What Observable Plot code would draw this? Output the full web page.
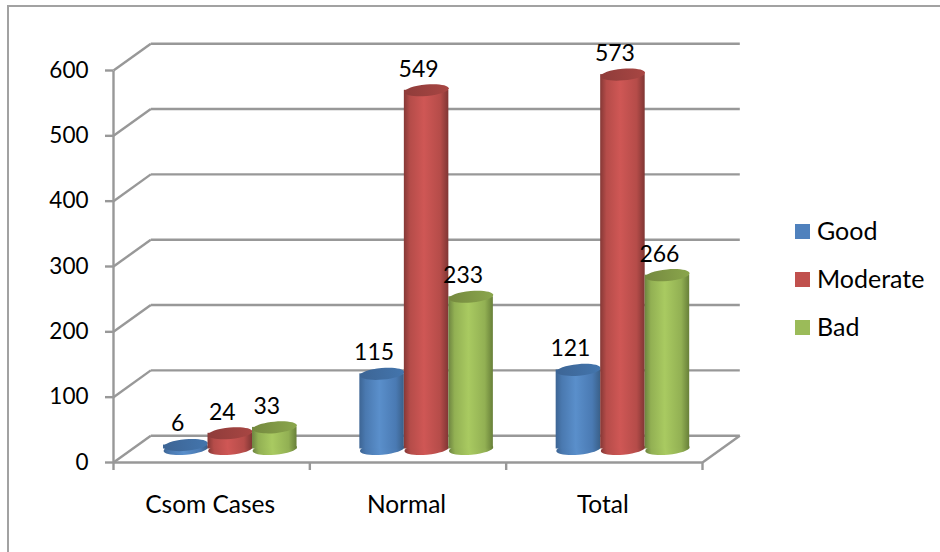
<!DOCTYPE html>
<html>
<head>
<meta charset="utf-8">
<script src="https://cdn.jsdelivr.net/npm/d3@7"></script>
<script src="https://cdn.jsdelivr.net/npm/@observablehq/plot@0.6"></script>
<style>
  html, body { margin: 0; padding: 0; background: #fff; width: 940px; height: 552px; overflow: hidden; }
  #wrap { position: relative; width: 940px; height: 552px; font-family: Lato, sans-serif; color: #000; }
  #border { position: absolute; left: 7px; top: 5px; width: 940px; height: 560px; box-sizing: border-box; border: 2px solid #a2a2a2; }
  #legend { position: absolute; left: 795px; top: 206px; }
  #legend div { height: 48px; display: flex; align-items: center; font-size: 25px; }
  #legend i { display: block; width: 15px; height: 15px; margin-right: 7px; position: relative; top: 1px; }
  #chart { position: absolute; left: 0; top: 0; }
</style>
</head>
<body>
<div id="wrap">
  <div id="border"></div>
  <div id="chart"></div>
  <div id="legend"></div>
</div>
<script>
const categories = ["Csom Cases", "Normal", "Total"];
const good = [6, 115, 121];
const moderate = [24, 549, 573];
const bad = [33, 233, 266];
const seriesNames = ["Good", "Moderate", "Bad"];
const seriesValues = [good, moderate, bad];
const yTicks = [0, 100, 200, 300, 400, 500, 600];

// Colours: legend colour, then the shaded stops of the cylinder side and cap
const legendColors = ["#4f81bd", "#c0504d", "#9bbb59"];
const sideStops = [
  ["#3d6594", "#4a79b0", "#5a8fcb", "#4a7ab3", "#3a6089"],
  ["#853836", "#b54c49", "#cf5755", "#b54c49", "#803634"],
  ["#6d8440", "#92b053", "#a9ca61", "#92b053", "#688039"]
];
const capStops = [
  ["#3d6595", "#4375ad"],
  ["#8f3c3a", "#a84643"],
  ["#75893f", "#8aa64c"]
];
const gridColor = "#989898";

// Pseudo-3D layout, expressed in scale units (category widths and chart values)
const depthX = 0.19;
const depthY = 41;
const barStart = 0.2547;
const barWidth = 0.2267;
const baseLift = 20.7;
const lastCategory = categories.length;

const rows = seriesValues.map((values, s) =>
  values.map((v, i) => ({
    series: seriesNames[s],
    value: v,
    x1: i + barStart + s * barWidth,
    x2: i + barStart + (s + 1) * barWidth,
    xc: i + barStart + (s + 0.5) * barWidth,
    y0: baseLift,
    yTop: baseLift + v
  }))
);

// Flattened ellipse symbol for the cylinder ends
const ellipse = {
  draw(ctx, size) {
    const rx = Math.sqrt(size / Math.PI);
    const ry = rx * 0.26;
    const k = 0.5523;
    ctx.moveTo(-rx, 0);
    ctx.bezierCurveTo(-rx, -k * ry, -k * rx, -ry, 0, -ry);
    ctx.bezierCurveTo(k * rx, -ry, rx, -k * ry, rx, 0);
    ctx.bezierCurveTo(rx, k * ry, k * rx, ry, 0, ry);
    ctx.bezierCurveTo(-k * rx, ry, -rx, k * ry, -rx, 0);
    ctx.closePath();
  }
};

function gradients() {
  const defs = d3.create("svg:defs");
  sideStops.forEach((stops, s) => {
    const g = defs.append("linearGradient").attr("id", "side" + s);
    [0, 0.14, 0.45, 0.82, 1].forEach((o, j) =>
      g.append("stop").attr("offset", o).attr("stop-color", stops[j]));
  });
  capStops.forEach((stops, s) => {
    const g = defs.append("linearGradient").attr("id", "cap" + s);
    stops.forEach((c, j) =>
      g.append("stop").attr("offset", j).attr("stop-color", c));
  });
  return defs.node();
}

const lineStyle = { stroke: gridColor, strokeWidth: 2.4 };

const cylinderMarks = rows.flatMap((data, s) => [
  Plot.dot(data, { x: "xc", y: "y0", r: barWidth * 98, symbol: ellipse, rotate: -5, fill: `url(#side${s})` }),
  Plot.rect(data, { x1: "x1", x2: "x2", y1: "y0", y2: "yTop", fill: `url(#side${s})` }),
  Plot.dot(data, { x: "xc", y: "yTop", r: barWidth * 98, symbol: ellipse, rotate: -5, fill: `url(#cap${s})` })
]);

const labelMarks = rows.map(data =>
  Plot.text(data, { x: "xc", y: "yTop", text: "value", dx: -8, dy: -21, fill: "#000", lineAnchor: "middle", fontSize: 23 })
);

const chart = Plot.plot({
  width: 940,
  height: 552,
  marginTop: 70,
  marginBottom: 90,
  marginLeft: 113,
  marginRight: 238,
  style: { fontFamily: "Lato, sans-serif", fontSize: "22.5px", background: "transparent", overflow: "visible" },
  x: { type: "linear", domain: [0, lastCategory] },
  y: { domain: [0, 600] },
  marks: [
    gradients,
    // back-wall gridlines
    Plot.link(yTicks, { x1: depthX, x2: lastCategory + depthX, y1: d => d + depthY, y2: d => d + depthY, ...lineStyle }),
    // side-wall diagonals
    Plot.link(yTicks, { x1: 0, x2: depthX, y1: d => d, y2: d => d + depthY, ...lineStyle }),
    // floor: right diagonal and front edge
    Plot.link([0], { x1: lastCategory, x2: lastCategory + depthX, y1: 0, y2: depthY, ...lineStyle }),
    Plot.link([0], { x1: 0, x2: lastCategory, y1: 0, y2: 0, ...lineStyle }),
    // front vertical axis line
    Plot.link([0], { x1: 0, x2: 0, y1: 0, y2: 600, ...lineStyle }),
    ...cylinderMarks,
    ...labelMarks,
    Plot.axisY({ ticks: yTicks, tickSize: 8, tickPadding: 17, stroke: gridColor, strokeWidth: 2.4, fill: "#000", label: null }),
    Plot.axisX({ ticks: d3.range(lastCategory + 1), tickSize: 8, tickFormat: () => "", stroke: gridColor, strokeWidth: 2.4, label: null }),
    Plot.axisX({
      ticks: categories.map((c, i) => i + 0.5),
      tickFormat: t => categories[Math.floor(t)],
      tickSize: 0,
      tickPadding: 33,
      fill: "#000",
      fontSize: 24.5,
      dx: -1.5,
      label: null
    })
  ]
});
document.getElementById("chart").append(chart);

const legend = d3.select("#legend");
seriesNames.forEach((name, s) => {
  const row = legend.append("div");
  row.append("i").style("background", legendColors[s]);
  row.append("span").text(name);
});
</script>
</body>
</html>
